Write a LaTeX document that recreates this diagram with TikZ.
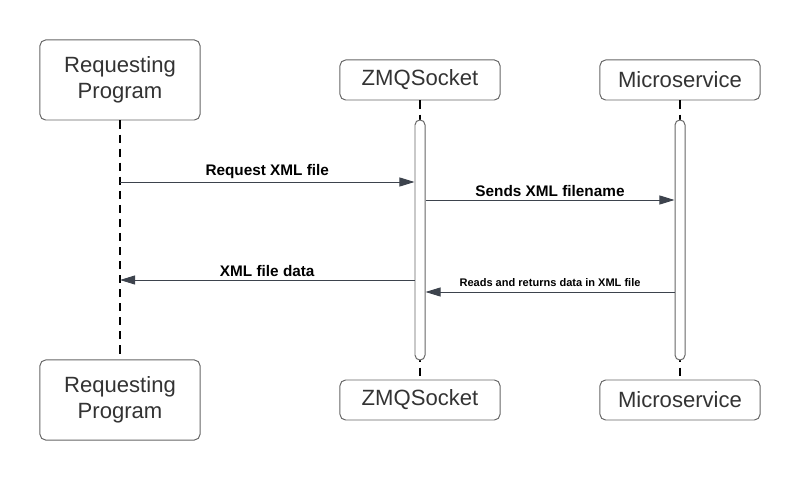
\documentclass[tikz,border=0pt]{standalone}
\usepackage{fontspec}
\setmainfont{Liberation Sans}
\usetikzlibrary{arrows.meta}
\definecolor{boxline}{HTML}{666666}
\definecolor{boxtext}{HTML}{333333}
\definecolor{msgline}{HTML}{3D434D}
\begin{document}
\begin{tikzpicture}[
            x=0.025cm, y=0.025cm,
            actor/.style={draw=boxline, line width=0.7pt, rectangle, rounded corners=4pt, align=center, text=boxtext, minimum width=4cm, font=\fontsize{15.7}{18.5}\selectfont},
            bigactor/.style={actor, minimum height=2cm},
            smallactor/.style={actor, minimum height=1cm},
            activation/.style={draw=boxline, fill=white, line width=0.7pt, rectangle, rounded corners=3.5pt, inner sep=0pt, minimum width=0.25cm, minimum height=6cm},
            lifeline/.style={black, line width=1.4pt, dash pattern=on 5.7pt off 4.3pt},
            msg/.style={draw=msgline, line width=0.7pt, -{Triangle[length=10.7pt, width=6.4pt]}},
            msglabel/.style={font=\fontsize{10.9}{13}\selectfont\bfseries, text=black, inner sep=2pt},
            smalllabel/.style={font=\fontsize{7.85}{9.5}\selectfont\bfseries, text=black, inner sep=3.5pt}
        ]

        \useasboundingbox (0,0) rectangle (800,480);

        % participants
        \node[bigactor] (reqtop) at (120,400) {Requesting\\Program};
        \node[bigactor] (reqbot) at (120,80) {Requesting\\Program};
        \node[smallactor] (zmqtop) at (420,400) {ZMQSocket};
        \node[smallactor] (zmqbot) at (420,80) {ZMQSocket};
        \node[smallactor] (mstop) at (680,400) {Microservice};
        \node[smallactor] (msbot) at (680,80) {Microservice};

        % lifelines
        \draw[lifeline] (reqtop.south) -- (reqbot.north);
        \draw[lifeline] (zmqtop.south) -- (zmqbot.north);
        \draw[lifeline] (mstop.south) -- (msbot.north);

        \node[activation] (zmqbar) at (420,240) {};
        \node[activation] (msbar) at (680,240) {};

        % messages
        \coordinate (m1) at (0,298);
        \coordinate (m2) at (0,280);
        \coordinate (m3) at (0,188);
        \coordinate (m4) at (0,200);

        \draw[msg] (reqtop.south |- m1) -- node[above, msglabel] {Request XML file} (zmqbar.west |- m1);
        \draw[msg] (zmqbar.east |- m2) -- node[above, msglabel] {Sends XML filename} (msbar.west |- m2);
        \draw[msg] (msbar.west |- m3) -- node[above, smalllabel] {Reads and returns data in XML file} (zmqbar.east |- m3);
        \draw[msg] (zmqbar.west |- m4) -- node[above, msglabel] {XML file data} (reqtop.south |- m4);

        \end{tikzpicture}
\end{document}
